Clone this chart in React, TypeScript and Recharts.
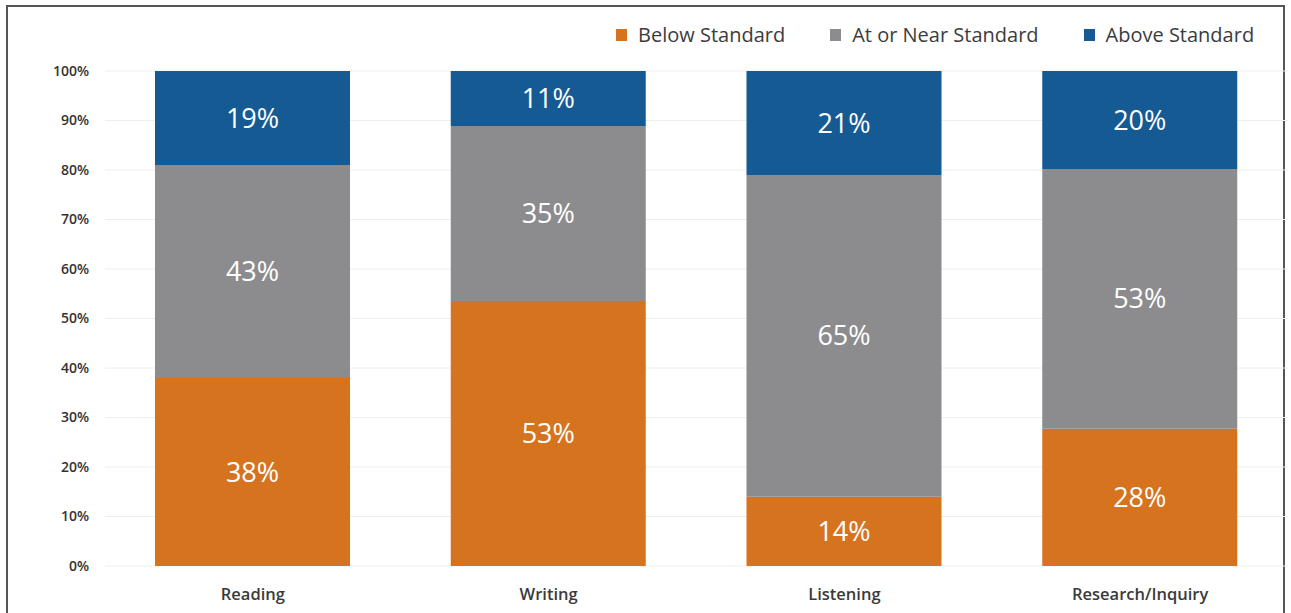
import React from "react";
import { BarChart, Bar, XAxis, YAxis, CartesianGrid, LabelList } from "recharts";

const categories = ["Reading", "Writing", "Listening", "Research/Inquiry"];
const belowStandard = [38, 53, 14, 28];
const nearStandard = [43, 35, 65, 53];
const aboveStandard = [19, 11, 21, 20];
const yTicks = [0, 0.1, 0.2, 0.3, 0.4, 0.5, 0.6, 0.7, 0.8, 0.9, 1];

const series = [
  { key: "below", name: "Below Standard", color: "#D6731F" },
  { key: "near", name: "At or Near Standard", color: "#8C8C8E" },
  { key: "above", name: "Above Standard", color: "#165A94" },
];

const data = categories.map((c, i) => ({
  name: c,
  below: belowStandard[i],
  near: nearStandard[i],
  above: aboveStandard[i],
}));

const font = "'Open Sans', 'Noto Sans', sans-serif";

export default function App() {
  return (
    <div style={{ position: "absolute", left: 0, top: 0, width: 1291, height: 613, background: "#fff", overflow: "hidden", fontFamily: font }}>
      <div style={{ position: "absolute", left: 6, top: 5, width: 1279, height: 640, border: "2px solid #555", boxSizing: "border-box" }} />
      <div style={{ position: "absolute", top: 21, left: 616, display: "flex", alignItems: "center", fontSize: 20, color: "#3c3c3c" }}>
        {series.map((s, i) => (
          <div key={s.key} style={{ display: "flex", alignItems: "center", marginRight: i < 2 ? 45 : 0 }}>
            <div style={{ width: 11, height: 12, background: s.color, marginRight: 11 }} />
            <span>{s.name}</span>
          </div>
        ))}
      </div>
      <div style={{ position: "absolute", left: 0, top: 0 }}>
        <BarChart
          width={1291}
          height={613}
          data={data}
          stackOffset="expand"
          margin={{ top: 71, right: 3, left: 0, bottom: 0 }}
          barSize={195}
        >
          <CartesianGrid vertical={false} stroke="#eeeeee" />
          <YAxis
            width={105}
            ticks={yTicks}
            domain={[0, 1]}
            tickFormatter={(v: number) => `${Math.round(v * 100)}%`}
            axisLine={false}
            tickLine={false}
            tickSize={0}
            tickMargin={16}
            tick={{ fontSize: 14, fontWeight: 600, fill: "#333", fontFamily: font }}
          />
          <XAxis
            dataKey="name"
            height={47}
            axisLine={false}
            tickLine={false}
            tickSize={0}
            tickMargin={22}
            tick={{ fontSize: 16.5, fontWeight: 600, fill: "#3a3a3a", fontFamily: font }}
          />
          {series.map((s) => (
            <Bar key={s.key} dataKey={s.key} name={s.name} stackId="a" fill={s.color} isAnimationActive={false}>
              <LabelList
                dataKey={s.key}
                position="center"
                formatter={(v: number) => `${v}%`}
                style={{ fill: "#fff", fontSize: 27, fontFamily: font }}
              />
            </Bar>
          ))}
        </BarChart>
      </div>
    </div>
  );
}
